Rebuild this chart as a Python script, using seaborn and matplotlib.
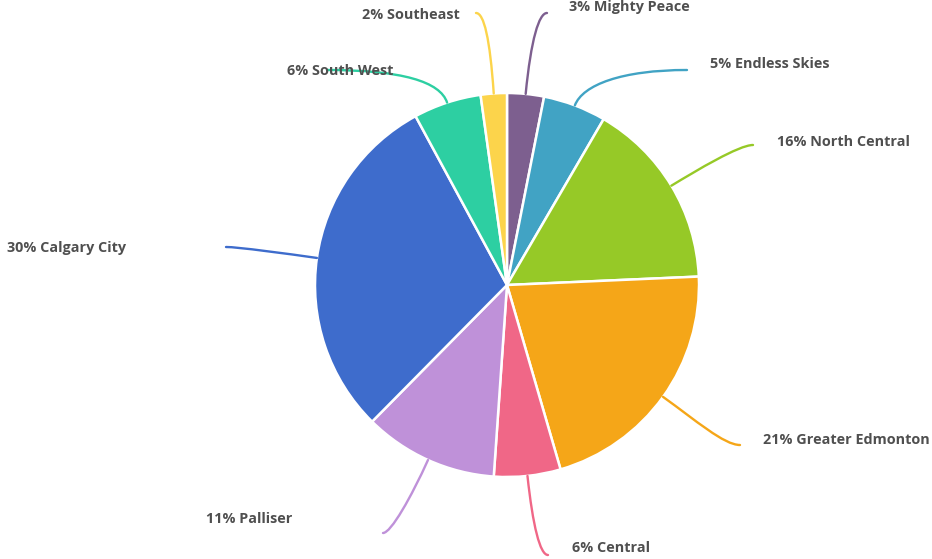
import matplotlib
matplotlib.use("Agg")
import matplotlib.pyplot as plt
from matplotlib.path import Path
from matplotlib.patches import PathPatch
import numpy as np
import seaborn as sns

# Share of each region, clockwise from 12 o'clock
regions = ["Mighty Peace", "Endless Skies", "North Central", "Greater Edmonton",
           "Central", "Palliser", "Calgary City", "South West", "Southeast"]
shares = [3.1, 5.3, 15.9, 21.2, 5.6, 11.3, 29.7, 5.7, 2.2]
colors = ["#7d5f8f", "#41a3c4", "#96c927", "#f5a618", "#f06787",
          "#bf91d9", "#3e6ccc", "#2dcfa2", "#fcd44b"]

W, H = 932, 559
CX, CY, R = 507, 285, 192

# label layout in pixel space: text left edge / centre line, connector end,
# radial run-out and horizontal lead-in of each connector
text_pos = [(569, 7), (710, 64), (777, 142), (763, 440), (572, 548),
            (206, 519), (7, 248), (287, 71), (362, 15)]
conn_end = [(547, 13), (687, 70), (753, 145), (740, 445), (548, 555),
            (383, 533), (226, 247), (327, 70), (476, 13)]
run_out = [55, 22, 30, 40, 50, 40, 30, 22, 55]
lead_in = [8, 65, 14, 16, 8, 8, 12, 75, 8]

sns.set_theme(style="white")
plt.rcParams["font.family"] = ["Open Sans", "DejaVu Sans"]

fig = plt.figure(figsize=(W / 100, H / 100), dpi=100)
ax = fig.add_axes([0, 0, 1, 1])

palette = sns.color_palette(colors)
ax.pie(shares, colors=palette, startangle=90, counterclock=False,
       center=(CX, H - CY), radius=R,
       wedgeprops=dict(edgecolor="white", linewidth=1.8))

ax.set_xlim(0, W)
ax.set_ylim(0, H)
ax.set_aspect("equal")
ax.axis("off")

total = sum(shares)
start = 0.0
for i, (name, val) in enumerate(zip(regions, shares)):
    mid = (start + val / 2) / total * 2 * np.pi
    start += val
    ux, uy = np.sin(mid), -np.cos(mid)           # pixel-space direction
    p0 = (CX + R * ux, CY + R * uy)
    p1 = (p0[0] + run_out[i] * ux, p0[1] + run_out[i] * uy)
    ex, ey = conn_end[i]
    side = 1 if ex > p0[0] else -1
    p2 = (ex - side * lead_in[i], ey)
    pts = [(x, H - y) for x, y in (p0, p1, p2, (ex, ey))]
    path = Path(pts, [Path.MOVETO, Path.CURVE4, Path.CURVE4, Path.CURVE4])
    ax.add_patch(PathPatch(path, facecolor="none", edgecolor=colors[i],
                           linewidth=1.7, capstyle="round", zorder=1))
    tx, ty = text_pos[i]
    ax.text(tx, H - ty, f"{round(val / total * 100):.0f}% {name}",
            ha="left", va="center", fontsize=10.4, fontweight="bold",
            color="#4f4f4f", zorder=3)

fig.savefig("out.png", dpi=100, facecolor="white")
